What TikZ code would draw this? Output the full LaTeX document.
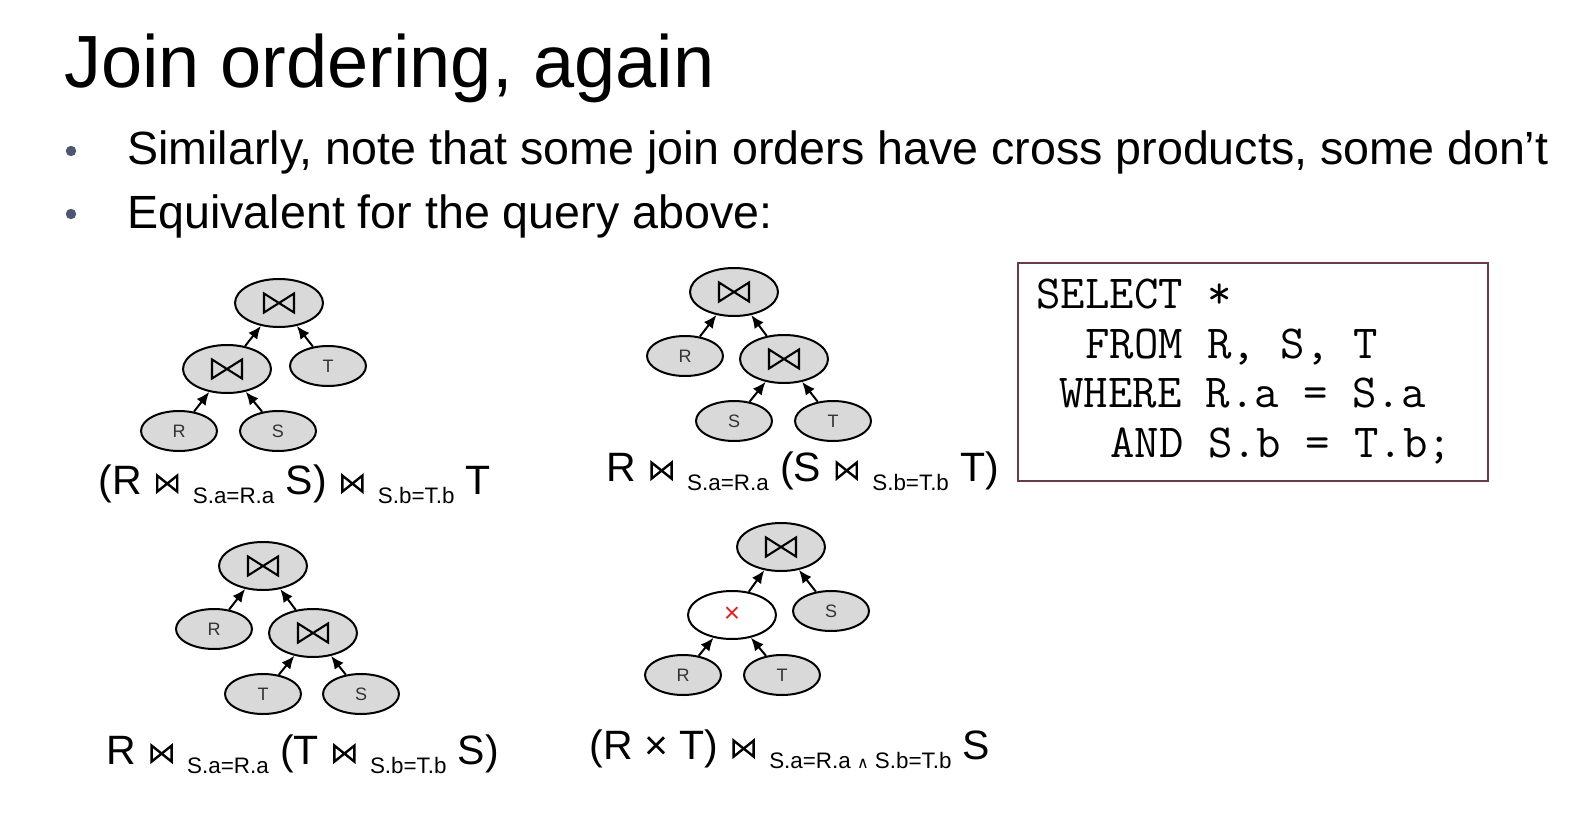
\documentclass[tikz,border=0pt]{standalone}
\usepackage{fontspec}
\setmainfont{Liberation Sans}
\newfontfamily\symf{DejaVu Sans}
\usetikzlibrary{shapes.geometric,arrows.meta}

\definecolor{nodegray}{HTML}{D9D9D9}
\definecolor{boxframe}{HTML}{6A3A48}
\definecolor{dotblue}{HTML}{4C5672}
\definecolor{crossred}{HTML}{E02424}
\definecolor{leaftext}{HTML}{333333}

% outlined join glyph of width #1, height #2, stroke #3
\newcommand\bowglyph[3]{%
  \begin{pgfpicture}%
    \pgfsetlinewidth{#3}\pgfsetmiterjoin
    \pgfpathmoveto{\pgfpoint{0pt}{0pt}}%
    \pgfpathlineto{\pgfpoint{#1}{#2}}%
    \pgfpathlineto{\pgfpoint{#1}{0pt}}%
    \pgfpathlineto{\pgfpoint{0pt}{#2}}%
    \pgfpathclose
    \pgfusepath{stroke}%
  \end{pgfpicture}}
\newsavebox\opbox
\newsavebox\jnbox
\newcommand\cond[1]{\raisebox{-4.5pt}{\fontsize{11.2pt}{13pt}\selectfont #1}}
\newcommand\jn{\usebox\jnbox}

\begin{document}
\sbox\opbox{\bowglyph{15pt}{9.5pt}{1.05pt}}
\sbox\jnbox{\hspace{1.5pt}\raisebox{0.6pt}{\bowglyph{10pt}{8pt}{1.2pt}}\hspace{1.5pt}}
\begin{tikzpicture}[x=0.5pt,y=-0.5pt,
  op/.style={ellipse, draw, line width=1pt, fill=nodegray, minimum width=44pt,
    minimum height=24pt, inner sep=0pt},
  leaf/.style={ellipse, draw, line width=1pt, fill=nodegray, minimum width=38pt,
    minimum height=20pt, inner sep=0pt, text=leaftext, font=\fontsize{9pt}{10pt}\selectfont},
  cross/.style={op, fill=white, text=crossred, font=\fontsize{14pt}{16pt}\selectfont},
  edge/.style={line width=1pt, -{Latex[length=6.5pt,width=5.6pt]}},
  formula/.style={anchor=base west, inner sep=0pt, font=\fontsize{20.5pt}{24pt}\selectfont},
  bullet/.style={anchor=base west, inner sep=0pt, font=\fontsize{23.3pt}{27pt}\selectfont},
  sqlline/.style={anchor=base west, inner sep=0pt, font=\ttfamily\fontsize{23.7pt}{27pt}\selectfont}]

\useasboundingbox (0,0) rectangle (1585,824);

% heading and bullet list
\node[anchor=base west, inner sep=0pt, font=\fontsize{37pt}{44pt}\selectfont] (title) at (64,88) {Join ordering, again};
\fill[dotblue] (71,151) circle (2.6pt);
\fill[dotblue] (71,214) circle (2.6pt);
\node[bullet] (b1) at (127,164) {Similarly, note that some join orders have cross products, some don’t};
\node[bullet] (b2) at (127,228) {Equivalent for the query above:};

% tree 1: (R join S) join T
\node[op]   (t1top) at (279,303) {\usebox\opbox};
\node[op]   (t1mid) at (227,369) {\usebox\opbox};
\node[leaf] (t1T)   at (328,366) {T};
\node[leaf] (t1R)   at (179,431) {R};
\node[leaf] (t1S)   at (278,431) {S};
\draw[edge] (t1mid) -- (t1top);
\draw[edge] (t1T) -- (t1top);
\draw[edge] (t1R) -- (t1mid);
\draw[edge] (t1S) -- (t1mid);
\node[formula] (f1) at (98,494) {(R \jn{} \cond{S.a=R.a} S) \jn{} \cond{S.b=T.b} T};

% tree 2: R join (S join T)
\node[op]   (t2top) at (734,292) {\usebox\opbox};
\node[leaf] (t2R)   at (685,356) {R};
\node[op]   (t2mid) at (784,359) {\usebox\opbox};
\node[leaf] (t2S)   at (734,421) {S};
\node[leaf] (t2T)   at (833,421) {T};
\draw[edge] (t2R) -- (t2top);
\draw[edge] (t2mid) -- (t2top);
\draw[edge] (t2S) -- (t2mid);
\draw[edge] (t2T) -- (t2mid);
\node[formula] (f2) at (606,481) {R \jn{} \cond{S.a=R.a} (S \jn{} \cond{S.b=T.b} T)};

% tree 3: R join (T join S)
\node[op]   (t3top) at (263,566) {\usebox\opbox};
\node[leaf] (t3R)   at (214,629) {R};
\node[op]   (t3mid) at (313,633) {\usebox\opbox};
\node[leaf] (t3T)   at (263,694) {T};
\node[leaf] (t3S)   at (361,694) {S};
\draw[edge] (t3R) -- (t3top);
\draw[edge] (t3mid) -- (t3top);
\draw[edge] (t3T) -- (t3mid);
\draw[edge] (t3S) -- (t3mid);
\node[formula] (f3) at (106,764) {R \jn{} \cond{S.a=R.a} (T \jn{} \cond{S.b=T.b} S)};

% tree 4: (R x T) join S
\node[op]    (t4top) at (781,547) {\usebox\opbox};
\node[cross] (t4x)   at (732,615) {×};
\node[leaf]  (t4S)   at (831,611) {S};
\node[leaf]  (t4R)   at (683,675) {R};
\node[leaf]  (t4T)   at (782,675) {T};
\draw[edge] (t4x) -- (t4top);
\draw[edge] (t4S) -- (t4top);
\draw[edge] (t4R) -- (t4x);
\draw[edge] (t4T) -- (t4x);
\node[formula] (f4) at (589,759) {(R × T) \jn{} \cond{S.a=R.a {\symf\fontsize{8pt}{10pt}\selectfont ∧} S.b=T.b} S};

% the query
\node[draw=boxframe, line width=0.8pt, minimum width=235pt, minimum height=109pt,
  inner sep=0pt] (sqlbox) at (1253,372) {};
\node[sqlline] (q1) at (1036,308) {SELECT *};
\node[sqlline] (q2) at (1085,358) {FROM R, S, T};
\node[sqlline] (q3) at (1059,407) {WHERE R.a = S.a};
\node[sqlline] (q4) at (1110,457) {AND S.b = T.b;};
\end{tikzpicture}
\end{document}
